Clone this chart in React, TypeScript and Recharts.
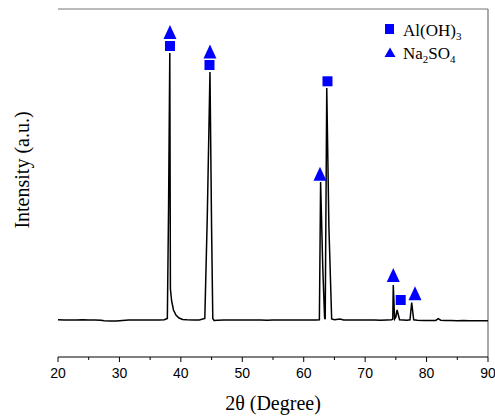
import React from 'react';
import {
  ComposedChart, Line, Scatter, XAxis, YAxis, ReferenceLine, Customized
} from 'recharts';

// XRD pattern
const twoTheta = [
  20, 21, 22, 23, 24, 25, 26, 27, 27.5, 28.5, 29.5, 30.5, 31.5, 32.5, 33.5, 34.5, 35.5, 36.5,
  37.3, 37.8, 38.0, 38.2, 38.3, 38.5, 38.8, 39.2, 39.7, 40.3, 41, 42, 43, 43.9, 44.3, 44.74,
  45.0, 45.2, 45.4, 46, 47, 48, 49, 50, 51, 52, 53, 54, 55, 56, 57, 58, 59, 60, 61, 62,
  62.55, 62.75, 63.1, 63.4, 63.5, 63.75, 64.1, 64.55, 65, 65.9, 66.5, 67.5, 68.5, 69.5, 70.5,
  71.5, 72.5, 73.5, 74.3, 74.5, 74.58, 74.8, 75.0, 75.2, 75.6, 76.2, 76.8, 77.3, 77.58, 77.9,
  78.5, 79.5, 80.5, 81.5, 81.9, 82.3, 83, 84, 85, 86, 87, 88, 89, 90
];
const intensity = [
  372, 370, 371, 369, 372, 370, 371, 368, 362, 360, 361, 366, 370, 369, 371, 370, 369, 371,
  372, 385, 1500, 3040, 680, 560, 470, 420, 390, 375, 372, 370, 371, 385, 1400, 2850,
  1300, 385, 365, 368, 370, 369, 371, 370, 369, 371, 370, 368, 370, 371, 369, 370, 371, 370, 369, 370,
  372, 1750, 900, 390, 378, 2690, 1300, 380, 372, 380, 370, 369, 371, 370, 369,
  370, 368, 370, 372, 380, 720, 380, 400, 470, 372, 370, 368, 372, 545, 372,
  368, 366, 364, 366, 383, 368, 366, 364, 363, 364, 363, 362, 363, 362
];

// phase markers
const alohX = [38.23, 44.66, 63.87, 75.79];
const alohY = [3110, 2920, 2757, 570];
const naX = [38.23, 44.74, 62.65, 74.58, 78.12];
const naY = [3250, 3055, 1833, 820, 637];

const xTicks = [20, 25, 30, 35, 40, 45, 50, 55, 60, 65, 70, 75, 80, 85, 90];

const BLUE = '#0000ff';
const SERIF = '"Liberation Serif", "Times New Roman", serif';
const SANS = '"Liberation Sans", Arial, sans-serif';

const pattern = twoTheta.map((t, i) => ({ theta: t, value: intensity[i] }));
const alohData = alohX.map((t, i) => ({ theta: t, value: alohY[i] }));
const naData = naX.map((t, i) => ({ theta: t, value: naY[i] }));

const Square = (props: any) => {
  const { cx, cy } = props;
  return <rect x={cx - 5} y={cy - 5} width={10} height={10} fill={BLUE} />;
};

const Triangle = (props: any) => {
  const { cx, cy } = props;
  return <polygon points={`${cx},${cy - 7} ${cx - 6.5},${cy + 7} ${cx + 6.5},${cy + 7}`} fill={BLUE} />;
};

const XTick = (props: any) => {
  const { x, y, payload } = props;
  const major = payload.value % 10 === 0;
  return (
    <g>
      <line x1={x} x2={x} y1={y} y2={y + (major ? 5 : 3)} stroke="#000" strokeWidth={1} />
      {major && (
        <text x={x} y={y + 21} textAnchor="middle" fontSize={14} fontFamily={SANS} fill="#000">
          {payload.value}
        </text>
      )}
    </g>
  );
};

const Overlay = () => (
  <g>
    <text x={273} y={410} textAnchor="middle" fontSize={20} fontFamily={SERIF} fill="#000">
      2θ (Degree)
    </text>
    <text
      x={0}
      y={0}
      transform="translate(29,170) rotate(-90)"
      textAnchor="middle"
      fontSize={20}
      fontFamily={SERIF}
      fill="#000"
    >
      Intensity (a.u.)
    </text>
    <rect x={385} y={24} width={9} height={10} fill={BLUE} />
    <text x={403} y={36} fontSize={17} fontFamily={SERIF} fill="#000">
      Al(OH)<tspan dy={4} fontSize={11}>3</tspan>
    </text>
    <polygon points="390,47.5 384.5,57 395.5,57" fill={BLUE} />
    <text x={403} y={59} fontSize={17} fontFamily={SERIF} fill="#000">
      Na<tspan dy={4} fontSize={11}>2</tspan><tspan dy={-4}>SO</tspan><tspan dy={4} fontSize={11}>4</tspan>
    </text>
  </g>
);

export default function App() {
  return (
    <div style={{ position: 'absolute', left: 0, top: 0, background: '#fff' }}>
      <ComposedChart width={495} height={416} margin={{ top: 9, right: 7, bottom: 0, left: 58 }}>
        <XAxis
          dataKey="theta"
          type="number"
          domain={[20, 90]}
          ticks={xTicks}
          interval={0}
          height={59}
          tickSize={0}
          tickMargin={0}
          tickLine={false}
          tick={<XTick />}
          axisLine={{ stroke: '#000', strokeWidth: 1 }}
          allowDataOverflow
        />
        <YAxis
          type="number"
          domain={[0, 3480]}
          width={0}
          tick={false}
          tickLine={false}
          axisLine={{ stroke: '#000', strokeWidth: 1 }}
          allowDataOverflow
        />
        <ReferenceLine y={3480} stroke="#777" strokeWidth={1} />
        <ReferenceLine x={90} stroke="#555" strokeWidth={1} />
        <Line
          data={pattern}
          dataKey="value"
          type="linear"
          stroke="#000"
          strokeWidth={1.5}
          dot={false}
          isAnimationActive={false}
        />
        <Scatter data={alohData} dataKey="value" shape={<Square />} isAnimationActive={false} />
        <Scatter data={naData} dataKey="value" shape={<Triangle />} isAnimationActive={false} />
        <Customized component={Overlay} />
      </ComposedChart>
    </div>
  );
}
